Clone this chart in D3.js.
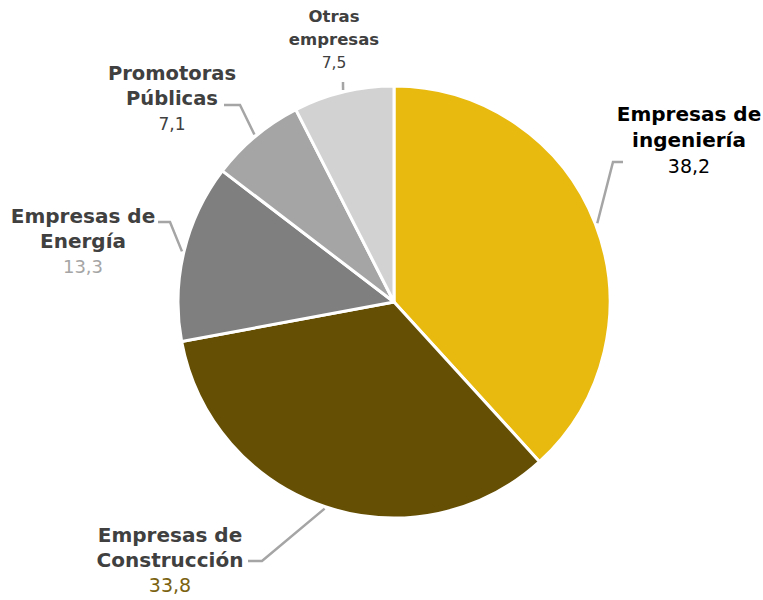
<!DOCTYPE html>
<html>
<head>
<meta charset="utf-8">
<script src="https://cdn.jsdelivr.net/npm/d3@7"></script>
<style>
  body { margin: 0; background: #fff; }
  svg { display: block; }
</style>
</head>
<body>
<script>
'use strict';

// chart data
const names = [
  ["Empresas de", "ingeniería"],
  ["Empresas de", "Construcción"],
  ["Empresas de", "Energía"],
  ["Promotoras", "Públicas"],
  ["Otras", "empresas"]
];
const values = [38.2, 33.8, 13.3, 7.1, 7.5];
const valueLabels = ["38,2", "33,8", "13,3", "7,1", "7,5"];
const sliceColors = ["#E8B90F", "#654F04", "#7F7F7F", "#A5A5A5", "#D2D2D2"];

// label layout: elbow point, horizontal end, text centre, sizes
const labelLayout = [
  { elbow: [613, 162], end: [623, 162], tx: 689, ty: 121, size: 20, vsize: 19, nameColor: "#000", valColor: "#000", gap: 26 },
  { elbow: [262, 561], end: [248, 561], tx: 170, ty: 542, size: 20, vsize: 19, nameColor: "#404040", valColor: "#7A6210", gap: 25 },
  { elbow: [170, 222], end: [158, 222], tx: 83, ty: 223, size: 20, vsize: 18, nameColor: "#404040", valColor: "#A5A5A5", gap: 25 },
  { elbow: [240, 105], end: [224, 105], tx: 172, ty: 80, size: 19.5, vsize: 17, nameColor: "#404040", valColor: "#404040", gap: 25 },
  { elbow: [343, 82], end: [343, 82], tx: 334, ty: 22, size: 16.5, vsize: 15.5, nameColor: "#404040", valColor: "#404040", gap: 23 }
];

const width = 763, height = 600;
const cx = 394, cy = 302, radius = 216;

const svg = d3.select('body').append('svg')
  .attr('width', width)
  .attr('height', height);

const pie = d3.pie().sort(null).value(d => d);
const arcs = pie(values);
const arc = d3.arc().innerRadius(0).outerRadius(radius);

const g = svg.append('g').attr('transform', `translate(${cx},${cy})`);

g.selectAll('path')
  .data(arcs)
  .enter()
  .append('path')
  .attr('d', arc)
  .attr('fill', (d, i) => sliceColors[i])
  .attr('stroke', '#fff')
  .attr('stroke-width', 3)
  .attr('stroke-linejoin', 'round');

// leader lines start at slice mid angle on the rim
arcs.forEach((a, i) => {
  const mid = (a.startAngle + a.endAngle) / 2;
  const px = cx + Math.sin(mid) * (radius + 2);
  const py = cy - Math.cos(mid) * (radius + 2);
  const L = labelLayout[i];
  svg.append('polyline')
    .attr('points', [[px, py], L.elbow, L.end].map(p => p.join(',')).join(' '))
    .attr('fill', 'none')
    .attr('stroke', '#A5A5A5')
    .attr('stroke-width', 2.5);
});

// labels
labelLayout.forEach((L, i) => {
  const t = svg.append('text')
    .attr('text-anchor', 'middle')
    .style('font-family', '"DejaVu Sans", sans-serif');
  names[i].forEach((line, j) => {
    t.append('tspan')
      .attr('x', L.tx)
      .attr('y', L.ty + j * L.gap)
      .style('font-size', L.size + 'px')
      .style('font-weight', 'bold')
      .attr('fill', L.nameColor)
      .text(line);
  });
  t.append('tspan')
    .attr('x', L.tx)
    .attr('y', L.ty + 2 * L.gap)
    .style('font-size', L.vsize + 'px')
    .style('font-weight', 'normal')
    .attr('fill', L.valColor)
    .text(valueLabels[i]);
});
</script>
</body>
</html>
